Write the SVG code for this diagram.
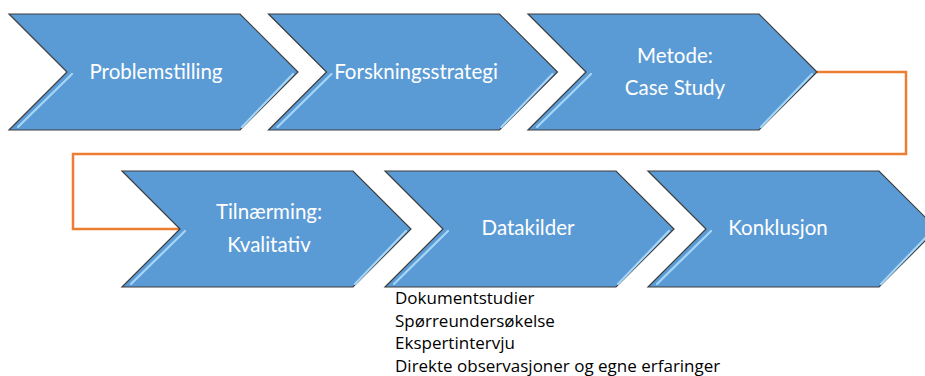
<svg xmlns="http://www.w3.org/2000/svg" width="925" height="376" viewBox="0 0 925 376">
<style>
.chev{fill:#5B9BD5;stroke:#3d3d3d;stroke-width:1.2;stroke-linejoin:miter}
.hl{stroke:#a6d6f7;stroke-width:2.2;fill:none;stroke-linecap:round}
.lbl{font-family:Lato,"Open Sans","Liberation Sans",sans-serif;font-size:20.5px;fill:#ffffff;text-anchor:middle}
.note{font-family:"Open Sans",Lato,"Liberation Sans",sans-serif;font-size:17px;fill:#000000}
.conn{fill:none;stroke:#ED7D31;stroke-width:2.5}
</style>
<rect width="925" height="376" fill="#ffffff"/>
<g id="connectors">
<path class="conn" d="M817 72 H906 V154 H73 V229 H180"/>
</g>
<g id="n1">
<path class="chev" d="M9 14 H240 L298 72 L240 130 H9 L67 72 Z"/>
<path class="hl" d="M293 74 L242 127 M72 74 L18 127"/>
<text class="lbl" x="156" y="79">Problemstilling</text>
</g>
<g id="n2">
<path class="chev" d="M268.5 14 H499.5 L557.5 72 L499.5 130 H268.5 L326.5 72 Z"/>
<path class="hl" d="M552.5 74 L501.5 127 M331.5 74 L277.5 127"/>
<text class="lbl" x="416" y="79">Forskningsstrategi</text>
</g>
<g id="n3">
<path class="chev" d="M528 14 H759 L817 72 L759 130 H528 L586 72 Z"/>
<path class="hl" d="M812 74 L761 127 M591 74 L537 127"/>
<text class="lbl" x="675" y="63">Metode:</text>
<text class="lbl" x="675" y="95">Case Study</text>
</g>
<g id="n4">
<path class="chev" d="M122 171 H353 L411 229 L353 287 H122 L180 229 Z"/>
<path class="hl" d="M406 231 L355 284 M185 231 L131 284"/>
<text class="lbl" x="269" y="219">Tilnærming:</text>
<text class="lbl" x="269" y="252">Kvalitativ</text>
</g>
<g id="n5">
<path class="chev" d="M385 171 H616 L674 229 L616 287 H385 L443 229 Z"/>
<path class="hl" d="M669 231 L618 284 M448 231 L394 284"/>
<text class="lbl" x="528" y="235">Datakilder</text>
</g>
<g id="n6">
<path class="chev" d="M648 171 H879 L937 229 L879 287 H648 L706 229 Z"/>
<path class="hl" d="M932 231 L881 284 M711 231 L657 284"/>
<text class="lbl" x="778" y="235">Konklusjon</text>
</g>
<g id="notes">
<text class="note" x="395" y="304">Dokumentstudier</text>
<text class="note" x="395" y="327">Spørreundersøkelse</text>
<text class="note" x="395" y="349">Ekspertintervju</text>
<text class="note" x="395" y="372">Direkte observasjoner og egne erfaringer</text>
</g>
</svg>
